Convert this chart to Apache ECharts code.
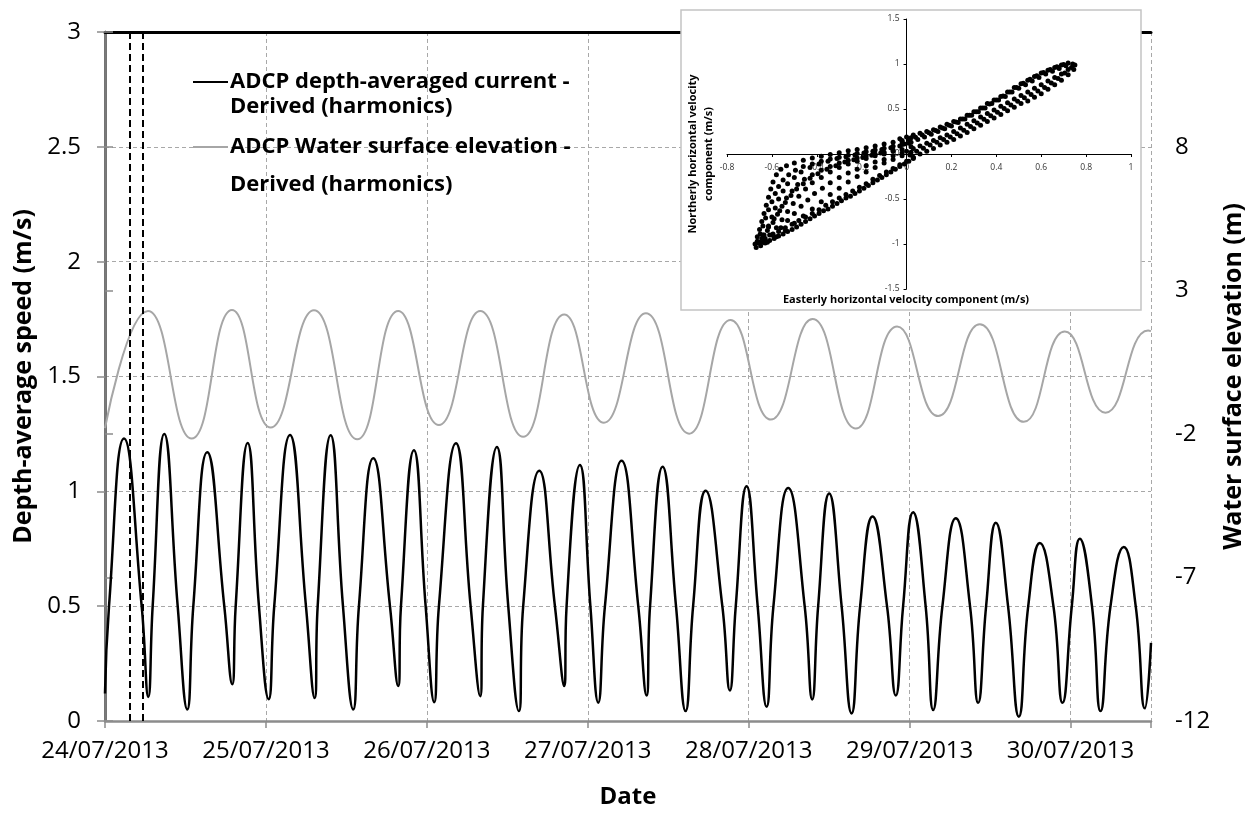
<!DOCTYPE html>
<html>
<head>
<meta charset="utf-8">
<title>ADCP depth-averaged current and water surface elevation</title>
<script src="https://cdn.jsdelivr.net/npm/echarts@6/dist/echarts.min.js"></script>
<style>
  html, body { margin: 0; padding: 0; background: #fff; }
  #chart { width: 1255px; height: 814px; }
</style>
</head>
<body>
<div id="chart"></div>
<script>
// x values are hours since 24/07/2013 00:00
const dayLabels = ['24/07/2013', '25/07/2013', '26/07/2013', '27/07/2013', '28/07/2013', '29/07/2013', '30/07/2013']

// depth-averaged speed (m/s): peaks, 0.5 crossings and troughs
const speedPoints = [
  [0, 0.12], [0.60, 0.5], [2.83, 1.23], [5.47, 0.5], [6.46, 0.105], [7.11, 0.5], [8.84, 1.25], [10.84, 0.5],
  [12.27, 0.05], [13.17, 0.5], [15.25, 1.17], [17.79, 0.5], [18.98, 0.16], [19.49, 0.5], [21.28, 1.21], [22.96, 0.5],
  [24.41, 0.095], [25.24, 0.5], [27.59, 1.245], [29.97, 0.5], [31.27, 0.10], [31.72, 0.5], [33.65, 1.244], [35.49, 0.5],
  [37.02, 0.05], [37.87, 0.5], [40.01, 1.144], [42.50, 0.5], [43.73, 0.152], [44.14, 0.5], [46.07, 1.179], [47.82, 0.5],
  [49.10, 0.082], [49.80, 0.5], [52.34, 1.209], [54.53, 0.5], [55.96, 0.108], [56.36, 0.5], [58.45, 1.193], [60.14, 0.5],
  [61.73, 0.043], [62.37, 0.5], [64.76, 1.09], [67.10, 0.5], [68.49, 0.152], [68.84, 0.5], [70.83, 1.115], [72.39, 0.5],
  [73.56, 0.08], [74.56, 0.5], [77.04, 1.133], [79.53, 0.5], [80.77, 0.111], [81.29, 0.5], [83.16, 1.107], [85.16, 0.5],
  [86.59, 0.043], [87.71, 0.5], [89.57, 1.003], [92.07, 0.5], [93.19, 0.133], [94.07, 0.5], [95.68, 1.022], [97.34, 0.5],
  [98.67, 0.062], [99.69, 0.5], [101.89, 1.014], [104.35, 0.5], [105.47, 0.094], [106.36, 0.5], [108.00, 0.991], [109.86, 0.5],
  [111.34, 0.033], [112.62, 0.5], [114.47, 0.89], [116.63, 0.5], [117.94, 0.111], [119.03, 0.5], [120.52, 0.909], [122.39, 0.5],
  [123.51, 0.048], [124.89, 0.5], [126.89, 0.883], [129.01, 0.5], [130.22, 0.079], [131.41, 0.5], [132.86, 0.863], [134.68, 0.5],
  [136.29, 0.019], [137.69, 0.5], [139.42, 0.775], [141.45, 0.5], [142.80, 0.079], [144.19, 0.5], [145.38, 0.794], [147.20, 0.5],
  [148.47, 0.043], [149.96, 0.5], [151.94, 0.758], [153.72, 0.5], [155.08, 0.055], [156, 0.34]
]

// water surface elevation (m): high and low waters
const elevationPoints = [
  [0, -1.80], [6.41, 2.28], [12.93, -2.16], [18.94, 2.32], [24.71, -1.78], [31.16, 2.31], [37.62, -2.19],
  [43.73, 2.28], [49.80, -1.69], [55.96, 2.28], [62.37, -2.10], [68.49, 2.16], [74.41, -1.61], [80.67, 2.20],
  [87.12, -1.99], [93.30, 1.97], [99.31, -1.50], [105.53, 2.00], [111.98, -1.81], [118.14, 1.74], [124.25, -1.38],
  [130.47, 1.82], [137.03, -1.58], [143.15, 1.57], [149.21, -1.26], [155.57, 1.60], [156, 1.58]
]

// the two dashed time markers (hours)
const markTimes = [3.73, 5.67]

// inset: easterly / northerly velocity components (m/s)
const ebbBranch = [
  [-0.67, -1.04], [-0.65, -1.02], [-0.63, -0.99], [-0.61, -0.96], [-0.59, -0.94], [-0.57, -0.91], [-0.55, -0.89],
  [-0.53, -0.86], [-0.51, -0.84], [-0.49, -0.81], [-0.47, -0.78], [-0.45, -0.75], [-0.43, -0.72], [-0.41, -0.69],
  [-0.39, -0.66], [-0.37, -0.63], [-0.35, -0.61], [-0.33, -0.58], [-0.31, -0.55], [-0.29, -0.52], [-0.27, -0.49],
  [-0.25, -0.47], [-0.23, -0.44], [-0.21, -0.41], [-0.19, -0.38], [-0.17, -0.35], [-0.15, -0.32], [-0.13, -0.29],
  [-0.11, -0.26], [-0.09, -0.23], [-0.07, -0.20], [-0.05, -0.17], [-0.03, -0.14], [-0.01, -0.11], [0.01, -0.08], [0.03, -0.05]
]
const ebbBranchUpper = [
  [-0.66, -0.99], [-0.63, -0.94], [-0.60, -0.90], [-0.57, -0.86], [-0.54, -0.82], [-0.51, -0.78], [-0.48, -0.74],
  [-0.45, -0.70], [-0.42, -0.66], [-0.39, -0.62], [-0.36, -0.57], [-0.33, -0.53], [-0.30, -0.49], [-0.27, -0.45],
  [-0.24, -0.41], [-0.21, -0.37], [-0.18, -0.33], [-0.15, -0.28], [-0.12, -0.24], [-0.09, -0.20], [-0.06, -0.16],
  [-0.03, -0.12], [0.00, -0.08], [0.03, -0.04]
]
const returnOuter = [
  [-0.675, -1.0], [-0.665, -0.92], [-0.655, -0.84], [-0.645, -0.75], [-0.635, -0.66], [-0.625, -0.57], [-0.615, -0.48],
  [-0.605, -0.39], [-0.595, -0.31], [-0.58, -0.23], [-0.56, -0.17], [-0.535, -0.13], [-0.50, -0.10], [-0.46, -0.07],
  [-0.42, -0.045], [-0.38, -0.025], [-0.34, -0.005], [-0.30, 0.015], [-0.26, 0.035], [-0.22, 0.05], [-0.18, 0.07],
  [-0.14, 0.09], [-0.10, 0.11], [-0.06, 0.13], [-0.02, 0.15], [0.02, 0.18]
]
const returnOuter2 = [
  [-0.665, -0.97], [-0.652, -0.89], [-0.64, -0.80], [-0.628, -0.71], [-0.615, -0.62], [-0.60, -0.53], [-0.585, -0.44],
  [-0.57, -0.36], [-0.55, -0.29], [-0.525, -0.23], [-0.495, -0.18], [-0.46, -0.14], [-0.42, -0.11], [-0.38, -0.08],
  [-0.34, -0.055], [-0.30, -0.035], [-0.26, -0.015], [-0.22, 0.005], [-0.18, 0.025], [-0.14, 0.045], [-0.10, 0.065],
  [-0.06, 0.085], [-0.02, 0.105]
]
const returnMid = [
  [-0.655, -0.98], [-0.635, -0.90], [-0.615, -0.80], [-0.60, -0.70], [-0.585, -0.60], [-0.57, -0.50], [-0.55, -0.41],
  [-0.53, -0.33], [-0.50, -0.26], [-0.47, -0.20], [-0.43, -0.15], [-0.39, -0.11], [-0.35, -0.08], [-0.31, -0.05],
  [-0.27, -0.03], [-0.23, -0.01], [-0.19, 0.01], [-0.15, 0.03], [-0.11, 0.05], [-0.07, 0.07], [-0.03, 0.09], [0.01, 0.12]
]
const returnMid2 = [
  [-0.645, -0.94], [-0.62, -0.85], [-0.595, -0.76], [-0.575, -0.67], [-0.555, -0.58], [-0.535, -0.49], [-0.51, -0.41],
  [-0.485, -0.34], [-0.455, -0.28], [-0.42, -0.23], [-0.38, -0.18], [-0.34, -0.14], [-0.30, -0.10], [-0.26, -0.07],
  [-0.22, -0.045], [-0.18, -0.02], [-0.14, 0.0], [-0.10, 0.02], [-0.06, 0.045]
]
const returnMid3 = [
  [-0.64, -0.90], [-0.615, -0.81], [-0.59, -0.72], [-0.565, -0.63], [-0.54, -0.54], [-0.515, -0.46], [-0.49, -0.39],
  [-0.46, -0.33], [-0.43, -0.27], [-0.395, -0.22], [-0.355, -0.17], [-0.315, -0.13], [-0.275, -0.09], [-0.235, -0.065],
  [-0.195, -0.04], [-0.155, -0.015], [-0.115, 0.01]
]
const returnInner = [
  [-0.64, -0.98], [-0.61, -0.90], [-0.58, -0.82], [-0.555, -0.73], [-0.53, -0.64], [-0.505, -0.55], [-0.48, -0.47],
  [-0.45, -0.39], [-0.42, -0.32], [-0.38, -0.26], [-0.34, -0.20], [-0.30, -0.15], [-0.26, -0.11], [-0.22, -0.08],
  [-0.18, -0.05], [-0.14, -0.02], [-0.10, 0.00], [-0.06, 0.03], [-0.02, 0.05], [0.02, 0.08]
]
const returnInner2 = [
  [-0.63, -0.96], [-0.595, -0.89], [-0.56, -0.82], [-0.53, -0.74], [-0.50, -0.66], [-0.47, -0.58], [-0.44, -0.51],
  [-0.41, -0.44], [-0.375, -0.38], [-0.34, -0.32], [-0.30, -0.26], [-0.26, -0.21], [-0.22, -0.17], [-0.18, -0.13],
  [-0.14, -0.09], [-0.10, -0.06], [-0.06, -0.02], [-0.02, 0.01]
]
const returnLow = [
  [-0.62, -0.98], [-0.58, -0.92], [-0.54, -0.85], [-0.50, -0.77], [-0.46, -0.69], [-0.42, -0.61], [-0.38, -0.53],
  [-0.34, -0.45], [-0.30, -0.38], [-0.26, -0.31], [-0.22, -0.25], [-0.18, -0.20], [-0.14, -0.15], [-0.10, -0.10],
  [-0.06, -0.06], [-0.02, -0.02], [0.02, 0.02]
]
const floodLow = [
  [0.03, -0.04], [0.06, 0.00], [0.09, 0.03], [0.12, 0.06], [0.15, 0.10], [0.18, 0.13], [0.21, 0.16], [0.24, 0.20],
  [0.27, 0.24], [0.30, 0.28], [0.33, 0.32], [0.36, 0.36], [0.39, 0.40], [0.42, 0.44], [0.45, 0.48], [0.48, 0.52],
  [0.51, 0.56], [0.54, 0.59], [0.57, 0.63], [0.60, 0.67], [0.63, 0.72], [0.66, 0.77], [0.69, 0.82], [0.72, 0.88], [0.745, 0.94]
]
const floodLow2 = [
  [0.015, -0.01], [0.045, 0.03], [0.075, 0.065], [0.105, 0.10], [0.135, 0.13], [0.165, 0.16], [0.195, 0.19],
  [0.225, 0.225], [0.255, 0.265], [0.285, 0.305], [0.315, 0.345], [0.345, 0.385], [0.375, 0.425], [0.405, 0.465],
  [0.435, 0.505], [0.465, 0.545], [0.495, 0.585], [0.525, 0.625], [0.555, 0.66], [0.585, 0.70], [0.615, 0.74],
  [0.645, 0.79], [0.675, 0.84], [0.705, 0.90], [0.735, 0.96]
]
const floodMidLow = [
  [0.00, 0.03], [0.03, 0.06], [0.06, 0.09], [0.09, 0.12], [0.12, 0.15], [0.15, 0.18], [0.18, 0.21], [0.21, 0.25],
  [0.24, 0.29], [0.27, 0.33], [0.30, 0.37], [0.33, 0.41], [0.36, 0.45], [0.39, 0.49], [0.42, 0.53], [0.45, 0.57],
  [0.48, 0.61], [0.51, 0.65], [0.54, 0.69], [0.57, 0.73], [0.60, 0.77], [0.63, 0.81], [0.66, 0.85], [0.69, 0.89],
  [0.72, 0.94], [0.75, 0.99]
]
const floodMidHigh = [
  [-0.01, 0.11], [0.02, 0.13], [0.05, 0.16], [0.08, 0.19], [0.11, 0.22], [0.14, 0.25], [0.17, 0.28], [0.20, 0.31],
  [0.23, 0.35], [0.26, 0.39], [0.29, 0.43], [0.32, 0.47], [0.35, 0.51], [0.38, 0.56], [0.41, 0.60], [0.44, 0.64],
  [0.47, 0.69], [0.50, 0.73], [0.53, 0.77], [0.56, 0.81], [0.59, 0.85], [0.62, 0.89], [0.65, 0.92], [0.68, 0.95],
  [0.71, 0.98], [0.74, 1.00]
]
const floodHigh2 = [
  [-0.02, 0.14], [0.01, 0.16], [0.04, 0.185], [0.07, 0.21], [0.10, 0.235], [0.13, 0.26], [0.16, 0.29], [0.19, 0.32],
  [0.22, 0.355], [0.25, 0.39], [0.28, 0.43], [0.31, 0.47], [0.34, 0.51], [0.37, 0.555], [0.40, 0.60], [0.43, 0.645],
  [0.46, 0.69], [0.49, 0.74], [0.52, 0.785], [0.55, 0.83], [0.58, 0.87], [0.61, 0.905], [0.64, 0.94], [0.67, 0.97],
  [0.70, 0.995]
]
const floodHigh = [
  [-0.03, 0.17], [0.00, 0.19], [0.03, 0.21], [0.06, 0.23], [0.09, 0.25], [0.12, 0.27], [0.15, 0.30], [0.18, 0.33],
  [0.21, 0.36], [0.24, 0.39], [0.27, 0.43], [0.30, 0.47], [0.33, 0.51], [0.36, 0.56], [0.39, 0.60], [0.42, 0.64],
  [0.45, 0.69], [0.48, 0.74], [0.51, 0.78], [0.54, 0.82], [0.57, 0.86], [0.60, 0.90], [0.63, 0.93], [0.66, 0.96],
  [0.69, 0.99], [0.72, 1.01]
]

const velocityPoints = [].concat(ebbBranch, ebbBranchUpper, returnOuter, returnOuter2, returnMid, returnMid2,
  returnMid3, returnInner, returnInner2, returnLow, floodLow, floodLow2, floodMidLow, floodMidHigh, floodHigh2, floodHigh)

const FONT = '"Open Sans", "DejaVu Sans", sans-serif'

const chart = echarts.init(document.getElementById('chart'), null, { renderer: 'canvas' })

const dashed = { color: '#a8a8a8', width: 1, type: [4, 3] }

// inset plot box; its axes cross at (0, 0)
const inset = { left: 727, top: 19, width: 404, height: 270 }
const insetZeroX = inset.width * 0.8 / 1.8
const insetZeroY = inset.height * 0.5

const option = {
  backgroundColor: '#fff',
  animation: false,
  textStyle: { fontFamily: FONT },
  grid: [
    { left: 105, right: 104, top: 32, bottom: 89 },
    inset
  ],
  xAxis: [
    {
      type: 'value', gridIndex: 0, min: 0, max: 156, interval: 24,
      name: 'Date', nameLocation: 'middle', nameGap: 64,
      nameTextStyle: { fontFamily: FONT, fontSize: 24, fontWeight: 'bold', color: '#000' },
      axisLine: { onZero: false, lineStyle: { color: '#8c8c8c', width: 2.5 } },
      axisTick: { show: true, length: 7, lineStyle: { color: '#8c8c8c', width: 1.5 } },
      axisLabel: {
        margin: 18, fontFamily: FONT, fontSize: 24, color: '#000',
        formatter: v => (v % 24 === 0 ? (dayLabels[v / 24] || '') : '')
      },
      splitLine: { show: true, lineStyle: dashed }
    },
    {
      // top border of the plot area
      type: 'value', gridIndex: 0, position: 'top', min: 0, max: 156,
      axisLine: { show: true, onZero: false, lineStyle: { color: '#000', width: 3 } },
      axisTick: { show: false }, axisLabel: { show: false }, splitLine: { show: false }
    },
    {
      type: 'value', gridIndex: 1, position: 'bottom', offset: -(inset.height - insetZeroY),
      min: -0.8, max: 1, interval: 0.2, z: 10,
      name: 'Easterly horizontal velocity component (m/s)', nameLocation: 'middle', nameGap: 140,
      nameTextStyle: { fontFamily: FONT, fontSize: 11, fontWeight: 'bold', color: '#000', padding: [0, 46, 0, 0] },
      axisLine: { onZero: false, lineStyle: { color: '#000', width: 1 } },
      axisTick: { show: true, length: 3, lineStyle: { color: '#000' } },
      axisLabel: { margin: 9, fontFamily: FONT, fontSize: 8.5, color: '#333' },
      splitLine: { show: false }
    }
  ],
  yAxis: [
    {
      type: 'value', gridIndex: 0, min: 0, max: 3, interval: 0.5,
      name: 'Depth-average speed (m/s)', nameLocation: 'middle', nameGap: 56,
      nameTextStyle: { fontFamily: FONT, fontSize: 25, fontWeight: 'bold', color: '#000' },
      axisLine: { show: true, lineStyle: { color: '#333', width: 2.5 } },
      axisTick: { show: true, length: 8, lineStyle: { color: '#8c8c8c', width: 1.5 } },
      axisLabel: { margin: 24, fontFamily: FONT, fontSize: 24, color: '#000' },
      splitLine: { show: true, lineStyle: dashed }
    },
    {
      type: 'value', gridIndex: 0, position: 'right', min: -12, max: 12, interval: 5,
      name: 'Water surface elevation (m)', nameLocation: 'middle', nameGap: 68,
      nameTextStyle: { fontFamily: FONT, fontSize: 25, fontWeight: 'bold', color: '#000' },
      axisLine: { show: true, lineStyle: { color: '#7a7a7a', width: 2.5 } },
      axisTick: { show: true, length: 8, lineStyle: { color: '#8c8c8c', width: 1.5 } },
      axisLabel: {
        margin: 24, fontFamily: FONT, fontSize: 24, color: '#000',
        formatter: v => (v === 12 ? '' : String(v))
      },
      splitLine: { show: false }
    },
    {
      type: 'value', gridIndex: 1, position: 'left', offset: -insetZeroX,
      min: -1.5, max: 1.5, interval: 0.5, z: 10,
      name: 'Northerly horizontal velocity\ncomponent (m/s)', nameLocation: 'middle', nameGap: 190,
      nameTextStyle: { fontFamily: FONT, fontSize: 11, fontWeight: 'bold', color: '#000', lineHeight: 16 },
      axisLine: { onZero: false, lineStyle: { color: '#000', width: 1 } },
      axisTick: { show: true, length: 3, lineStyle: { color: '#000' } },
      axisLabel: { margin: 7, fontFamily: FONT, fontSize: 8.5, color: '#333' },
      splitLine: { show: false }
    }
  ],
  graphic: [
    // inset frame
    { type: 'rect', z: 3, shape: { x: 681, y: 10, width: 460, height: 300 },
      style: { fill: '#fff', stroke: '#c4c4c4', lineWidth: 1.5 } },
    // legend
    { type: 'line', z: 4, shape: { x1: 193, y1: 82, x2: 228, y2: 82 }, style: { stroke: '#000', lineWidth: 2 } },
    { type: 'text', z: 4, x: 230, y: 82,
      style: { text: 'ADCP depth-averaged current -', font: 'bold 22px ' + FONT, fill: '#000', verticalAlign: 'middle' } },
    { type: 'text', z: 4, x: 230, y: 107,
      style: { text: 'Derived (harmonics)', font: 'bold 22px ' + FONT, fill: '#000', verticalAlign: 'middle' } },
    { type: 'line', z: 4, shape: { x1: 193, y1: 147, x2: 228, y2: 147 }, style: { stroke: '#a6a6a6', lineWidth: 2 } },
    { type: 'text', z: 4, x: 230, y: 147,
      style: { text: 'ADCP Water surface elevation -', font: 'bold 22px ' + FONT, fill: '#000', verticalAlign: 'middle' } },
    { type: 'text', z: 4, x: 230, y: 185,
      style: { text: 'Derived (harmonics)', font: 'bold 22px ' + FONT, fill: '#000', verticalAlign: 'middle' } }
  ],
  series: [
    {
      name: 'ADCP Water surface elevation - Derived (harmonics)',
      type: 'line', xAxisIndex: 0, yAxisIndex: 1,
      data: elevationPoints, smooth: 0.5, symbol: 'none', silent: true,
      lineStyle: { color: '#a6a6a6', width: 2 }
    },
    {
      name: 'ADCP depth-averaged current - Derived (harmonics)',
      type: 'line', xAxisIndex: 0, yAxisIndex: 0,
      data: speedPoints, smooth: 0.5, symbol: 'none', silent: true,
      lineStyle: { color: '#000', width: 2.5 },
      markLine: {
        silent: true, symbol: ['none', 'none'], label: { show: false },
        lineStyle: { color: '#000', width: 2, type: [7, 4] },
        data: markTimes.map(t => ({ xAxis: t }))
      }
    },
    {
      name: 'Velocity components',
      type: 'scatter', xAxisIndex: 2, yAxisIndex: 2, z: 10, silent: true,
      data: velocityPoints, symbolSize: 5,
      itemStyle: { color: '#000', opacity: 1 }
    }
  ]
}

chart.setOption(option)
window.addEventListener('resize', () => chart.resize())
</script>
</body>
</html>
